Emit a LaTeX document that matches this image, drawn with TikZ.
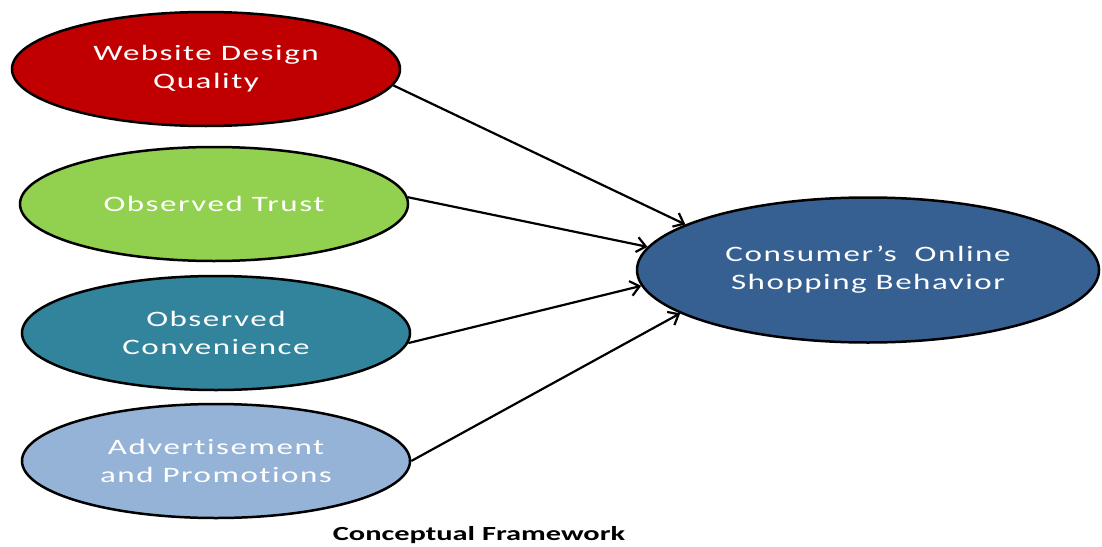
\documentclass[tikz,border=0pt]{standalone}
\usepackage{fontspec}
\setmainfont{Carlito}
\newfontfamily\ovalfont[FakeStretch=1.5,LetterSpace=7,Ligatures=NoCommon]{Carlito}
\newfontfamily\capfont[FakeStretch=1.52]{Carlito}
\usetikzlibrary{shapes.geometric,arrows.meta}

\definecolor{webred}{HTML}{C00000}
\definecolor{trustgreen}{HTML}{92D050}
\definecolor{convteal}{HTML}{31849B}
\definecolor{advblue}{HTML}{95B3D7}
\definecolor{consblue}{HTML}{376092}

\tikzstyle{oval}=[ellipse,draw=black,line width=2.5pt,inner sep=0pt,
  minimum width=388pt,minimum height=114pt,text=white,align=center,
  font=\ovalfont\fontsize{22}{28}\selectfont]
\tikzstyle{link}=[-{Straight Barb[length=9pt,width=15pt]},line width=2.2pt]

\begin{document}
\begin{tikzpicture}[x=1pt,y=-1pt]
\useasboundingbox (0,0) rectangle (1102,546);
% factors
   \node[oval,fill=webred] (web) at (206,69) {Website Design\\Quality};
   \node[oval,fill=trustgreen] (trust) at (214,204) {Observed Trust};
   \node[oval,fill=convteal] (conv) at (216,333) {Observed\\Convenience};
   \node[oval,fill=advblue] (adv) at (216,461) {Advertisement\\and Promotions};

% outcome
   \node[oval,fill=consblue,minimum width=462pt,minimum height=145pt]
      (cons) at (868,270) {Consumer’s~ Online\\Shopping Behavior};

   \draw[link] (web.-5) -- (cons.166);
   \draw[link] (trust.2) -- (cons.174);
   \draw[link] (conv.-3.5) -- (cons.184.5);
   \draw[link] (adv.0) -- (cons.193.5);

   \node[font=\capfont\bfseries\fontsize{20}{22}\selectfont] (title) at (479,535)
      {Conceptual Framework};
\end{tikzpicture}
\end{document}
